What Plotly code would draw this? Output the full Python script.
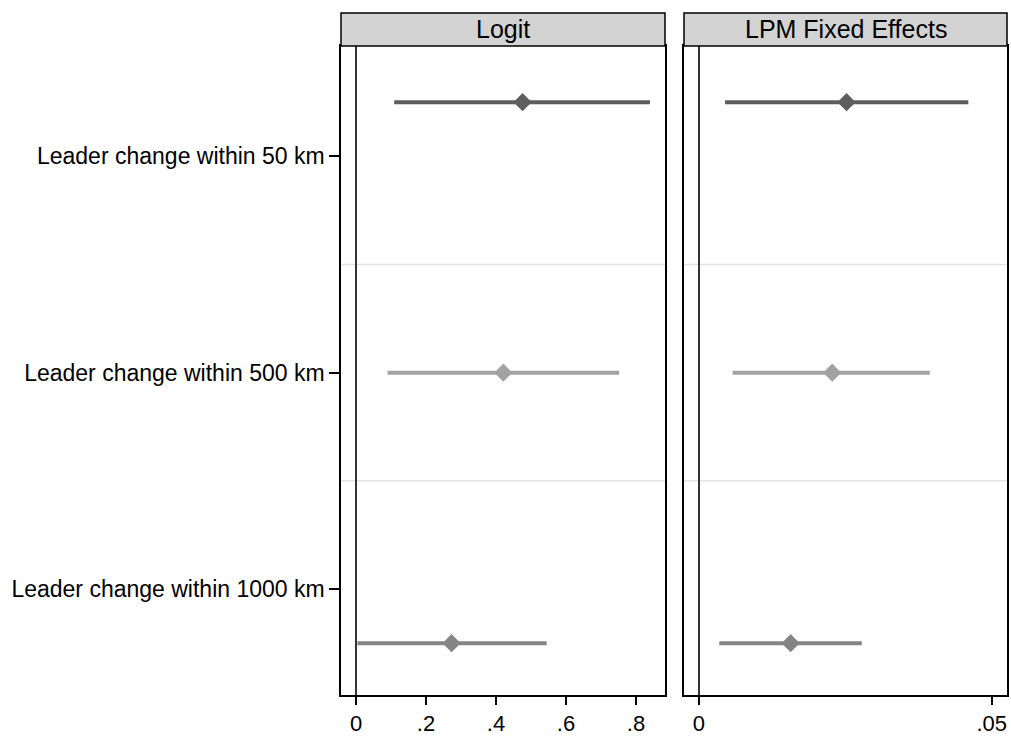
import plotly.graph_objects as go

categories = ["Leader change within 50 km", "Leader change within 500 km", "Leader change within 1000 km"]
panels = ["Logit", "LPM Fixed Effects"]

logit_est = [0.476, 0.421, 0.273]
logit_lo = [0.109, 0.090, 0.004]
logit_hi = [0.840, 0.752, 0.545]

lpm_est = [0.0252, 0.02275, 0.01565]
lpm_lo = [0.00444, 0.00575, 0.00347]
lpm_hi = [0.0460, 0.0394, 0.0278]

left_ticks = [0, 0.2, 0.4, 0.6, 0.8]
left_ticktext = ["0", ".2", ".4", ".6", ".8"]
right_ticks = [0, 0.05]
right_ticktext = ["0", ".05"]

colors = ["#5e5e5e", "#a2a2a2", "#858585"]
offsets = [-0.25, 0.0, 0.25]

W, H = 1011, 736
def px_x(p):
    return p / W
def px_y(p):
    return 1 - p / H

FONT = "Liberation Sans, Arial"

fig = go.Figure()

data = [(logit_est, logit_lo, logit_hi, "x", "y"), (lpm_est, lpm_lo, lpm_hi, "x2", "y2")]
for est, lo, hi, xa, ya in data:
    for i, cat in enumerate(categories):
        fig.add_trace(go.Scatter(
            x=[est[i]], y=[i + 1 + offsets[i]],
            mode="markers",
            marker=dict(symbol="diamond", size=14, color=colors[i], line=dict(width=0)),
            error_x=dict(type="data", symmetric=False,
                         array=[hi[i] - est[i]], arrayminus=[est[i] - lo[i]],
                         width=0, thickness=4, color=colors[i]),
            xaxis=xa, yaxis=ya, showlegend=False, hoverinfo="skip",
        ))

x1d = [px_x(341), px_x(665)]
x2d = [px_x(684), px_x(1007)]
yd = [px_y(697), px_y(46)]
yrange = [3.49, 0.49]

axis_common = dict(showline=True, linecolor="black", linewidth=1.5, mirror=True,
                   ticks="outside", ticklen=8, tickwidth=1.5, tickcolor="black",
                   tickfont=dict(family=FONT, size=22, color="black"),
                   showgrid=False, zeroline=True, zerolinecolor="#333333", zerolinewidth=2)

fig.update_layout(
    width=W, height=H, margin=dict(l=0, r=0, t=0, b=0),
    paper_bgcolor="white", plot_bgcolor="white",
    xaxis=dict(domain=x1d, range=[-0.043, 0.883], tickvals=left_ticks, ticktext=left_ticktext, anchor="y", **axis_common),
    xaxis2=dict(domain=x2d, range=[-0.00256, 0.0526], tickvals=right_ticks, ticktext=right_ticktext, anchor="y2", **axis_common),
    yaxis=dict(domain=yd, range=yrange, anchor="x", showline=True, linecolor="black", linewidth=1.5, mirror=True,
               tickvals=[1, 2, 3], ticktext=categories, ticks="outside", ticklen=10, tickwidth=1.5, tickcolor="black",
               tickfont=dict(family=FONT, size=23, color="black"),
               showgrid=False, zeroline=False),
    yaxis2=dict(domain=yd, range=yrange, anchor="x2", showline=True, linecolor="black", linewidth=1.5, mirror=True,
                showticklabels=False, ticks="", showgrid=False, zeroline=False, matches="y"),
)

# horizontal separators between groups
for xa, ya in [("x", "y"), ("x2", "y2")]:
    for yv in [1.5, 2.5]:
        fig.add_shape(type="line", xref=f"{xa} domain", yref=ya, x0=0, x1=1, y0=yv, y1=yv,
                      line=dict(color="#e3e3e3", width=1.5), layer="below")

# strips
for dom, title in zip([x1d, x2d], panels):
    fig.add_shape(type="rect", xref="paper", yref="paper", x0=dom[0], x1=dom[1],
                  y0=px_y(46), y1=px_y(13), fillcolor="#d3d3d3", line=dict(color="black", width=1.5))
    fig.add_annotation(xref="paper", yref="paper", x=(dom[0] + dom[1]) / 2, y=px_y(29.5),
                       text=title, showarrow=False, xanchor="center", yanchor="middle",
                       font=dict(family=FONT, size=25, color="black"))

fig.write_html("out.html", config={"displayModeBar": False},
               post_script="document.body.style.margin='0';document.body.style.overflow='hidden';")
